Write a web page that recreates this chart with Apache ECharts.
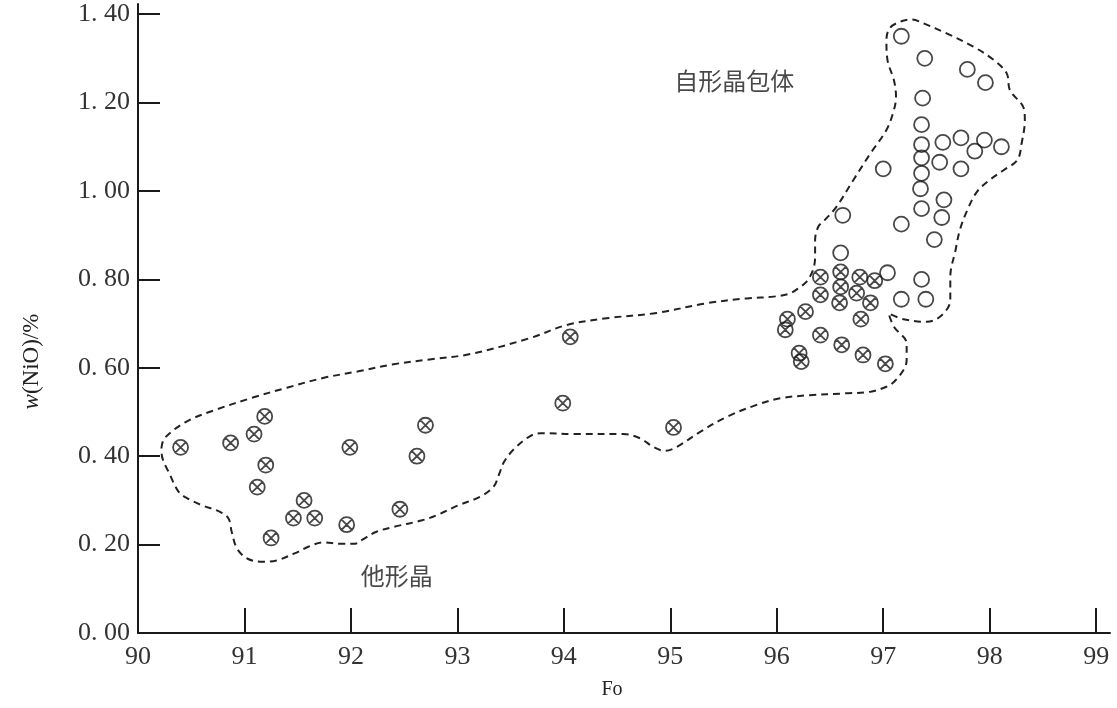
<!DOCTYPE html>
<html>
<head>
<meta charset="utf-8">
<script src="https://cdn.jsdelivr.net/npm/echarts@6/dist/echarts.min.js"></script>
<style>
html,body{margin:0;padding:0;background:#fff;}
#c{width:1117px;height:708px;}
</style>
</head>
<body>
<div id="c"></div>
<script>
// Axis ticks
const xTicks = [90, 91, 92, 93, 94, 95, 96, 97, 98, 99];
const yTicks = [0, 0.2, 0.4, 0.6, 0.8, 1.0, 1.2, 1.4];

// 他形晶 (crossed circles) [Fo, NiO]
const xenomorphic = [
  [90.40, 0.42], [90.87, 0.43], [91.09, 0.45], [91.19, 0.49], [91.20, 0.38],
  [91.12, 0.33], [91.25, 0.215], [91.56, 0.30], [91.46, 0.26], [91.66, 0.26],
  [91.99, 0.42], [91.96, 0.245], [92.46, 0.28], [92.62, 0.40], [92.70, 0.47],
  [93.99, 0.52], [94.06, 0.67], [95.03, 0.465],
  [96.41, 0.805], [96.60, 0.817], [96.78, 0.805], [96.92, 0.797], [96.60, 0.783],
  [96.41, 0.765], [96.75, 0.769], [96.59, 0.747], [96.88, 0.747], [96.27, 0.727],
  [96.10, 0.710], [96.08, 0.686], [96.79, 0.710], [96.41, 0.674], [96.61, 0.652],
  [96.21, 0.633], [96.23, 0.614], [96.81, 0.629], [97.02, 0.609]
];

// 自形晶包体 (open circles) [Fo, NiO]
const inclusions = [
  [97.17, 1.35], [97.39, 1.30], [97.79, 1.275], [97.96, 1.245], [97.37, 1.21],
  [97.36, 1.15], [97.36, 1.105], [97.56, 1.11], [97.73, 1.12], [97.95, 1.115],
  [98.11, 1.10], [97.86, 1.09], [97.36, 1.075], [97.53, 1.065], [97.73, 1.05],
  [97.36, 1.04], [97.00, 1.05], [97.35, 1.005], [97.57, 0.98], [97.36, 0.96],
  [97.55, 0.94], [97.17, 0.925], [97.48, 0.89], [96.62, 0.945], [96.60, 0.86],
  [97.04, 0.815], [97.36, 0.80], [97.17, 0.755], [97.40, 0.755]
];

// Dashed field outline [Fo, NiO]
const fieldOutline = [
  [90.22, 0.418], [90.25, 0.441], [90.46, 0.479], [90.73, 0.505], [91.07, 0.532],
  [91.40, 0.555], [91.74, 0.577], [92.07, 0.592], [92.40, 0.608], [92.74, 0.619],
  [93.12, 0.631], [93.68, 0.667], [94.03, 0.697], [94.40, 0.712], [94.87, 0.724],
  [95.34, 0.746], [95.72, 0.757], [95.97, 0.761], [96.12, 0.768], [96.22, 0.783],
  [96.28, 0.795], [96.34, 0.821], [96.36, 0.851], [96.36, 0.889], [96.39, 0.919],
  [96.45, 0.934], [96.56, 0.964], [96.72, 1.025], [96.88, 1.085], [97.03, 1.138],
  [97.10, 1.183], [97.12, 1.213], [97.10, 1.251], [97.04, 1.296], [97.03, 1.341],
  [97.06, 1.368], [97.16, 1.383], [97.27, 1.388], [97.38, 1.379], [97.60, 1.356],
  [97.85, 1.326], [98.04, 1.296], [98.16, 1.266], [98.19, 1.228], [98.32, 1.187],
  [98.33, 1.160], [98.30, 1.108], [98.26, 1.070], [98.13, 1.047], [98.00, 1.025],
  [97.88, 0.998], [97.79, 0.957], [97.72, 0.912], [97.68, 0.867], [97.63, 0.806],
  [97.63, 0.753], [97.55, 0.719], [97.41, 0.704], [97.19, 0.710], [97.05, 0.723],
  [97.10, 0.693], [97.22, 0.655], [97.22, 0.617], [97.19, 0.595], [97.10, 0.568],
  [97.03, 0.557], [96.88, 0.546], [96.63, 0.542], [96.31, 0.538], [96.03, 0.531],
  [95.81, 0.516], [95.53, 0.489], [95.28, 0.455], [95.06, 0.421], [94.95, 0.412],
  [94.84, 0.421], [94.72, 0.440], [94.56, 0.450], [94.09, 0.450], [93.78, 0.452],
  [93.68, 0.445], [93.54, 0.418], [93.44, 0.388], [93.39, 0.358], [93.34, 0.331],
  [93.21, 0.308], [93.01, 0.289], [92.81, 0.267], [92.67, 0.255], [92.40, 0.240],
  [92.24, 0.229], [92.10, 0.210], [92.04, 0.202], [91.90, 0.202], [91.74, 0.205],
  [91.60, 0.195], [91.47, 0.180], [91.30, 0.164], [91.17, 0.161], [91.03, 0.168],
  [90.93, 0.191], [90.88, 0.229], [90.85, 0.259], [90.77, 0.274], [90.60, 0.289],
  [90.46, 0.305], [90.38, 0.320], [90.30, 0.358], [90.23, 0.395], [90.22, 0.418]
];

// Field labels [Fo, NiO, text]
const fieldLabels = [
  [95.60, 1.249, '自形晶包体'],
  [92.43, 0.129, '他形晶']
];

const crossedCircle = 'path://M0,10A10,10 0 1,1 20,10A10,10 0 1,1 0,10Z M2.93,2.93L17.07,17.07 M17.07,2.93L2.93,17.07';
const serif = '"Liberation Serif", "DejaVu Serif", serif';
const cjk = '"Noto Sans CJK SC", sans-serif';

const chart = echarts.init(document.getElementById('c'), null, {renderer: 'canvas'});
chart.setOption({
  animation: false,
  backgroundColor: '#ffffff',
  grid: {left: 138, right: 7, top: 4, bottom: 75, containLabel: false},
  xAxis: {
    type: 'value', min: 90, max: 99.13, interval: 1,
    name: 'Fo', nameLocation: 'middle', nameGap: 47,
    nameTextStyle: {fontFamily: serif, fontSize: 20, color: '#222', padding: [0, 24, 0, 0]},
    axisLine: {show: true, onZero: false, lineStyle: {color: '#1a1a1a', width: 2}},
    axisTick: {show: true, inside: true, length: 25, customValues: xTicks.slice(1), lineStyle: {color: '#1a1a1a', width: 2}},
    axisLabel: {customValues: xTicks, margin: 11, fontFamily: serif, fontSize: 26, color: '#333'},
    splitLine: {show: false}
  },
  yAxis: {
    type: 'value', min: 0, max: 1.423, interval: 0.2,
    name: '{i|w}(NiO)/%', nameLocation: 'middle', nameGap: 95,
    nameTextStyle: {
      fontFamily: serif, fontSize: 23, color: '#222', padding: [0, 86, 0, 0],
      rich: {i: {fontFamily: serif, fontSize: 23, fontStyle: 'italic', color: '#222'}}
    },
    axisLine: {show: true, onZero: false, lineStyle: {color: '#1a1a1a', width: 2}},
    axisTick: {show: true, inside: true, length: 22, customValues: yTicks.slice(1), lineStyle: {color: '#1a1a1a', width: 2}},
    axisLabel: {
      customValues: yTicks, margin: 8, fontFamily: serif, fontSize: 26, color: '#333',
      formatter: v => v.toFixed(2).replace('.', '. ')
    },
    splitLine: {show: false}
  },
  series: [
    {
      type: 'line', data: fieldOutline, smooth: 0.35, symbol: 'none',
      lineStyle: {color: '#222', width: 2, type: [7, 5]}, silent: true, z: 1
    },
    {
      type: 'scatter', data: xenomorphic, symbol: crossedCircle, symbolSize: 15,
      itemStyle: {color: 'rgba(0,0,0,0)', borderColor: '#1a1a1a', borderWidth: 1.8}, z: 3
    },
    {
      type: 'scatter', data: inclusions, symbol: 'circle', symbolSize: 15,
      itemStyle: {color: 'rgba(0,0,0,0)', borderColor: '#1a1a1a', borderWidth: 1.8}, z: 3
    },
    {
      type: 'scatter', data: fieldLabels, symbolSize: 0, silent: true,
      label: {
        show: true, position: 'inside', formatter: p => p.value[2],
        fontFamily: cjk, fontSize: 24, color: '#1a1a1a'
      }
    }
  ]
});
</script>
</body>
</html>
